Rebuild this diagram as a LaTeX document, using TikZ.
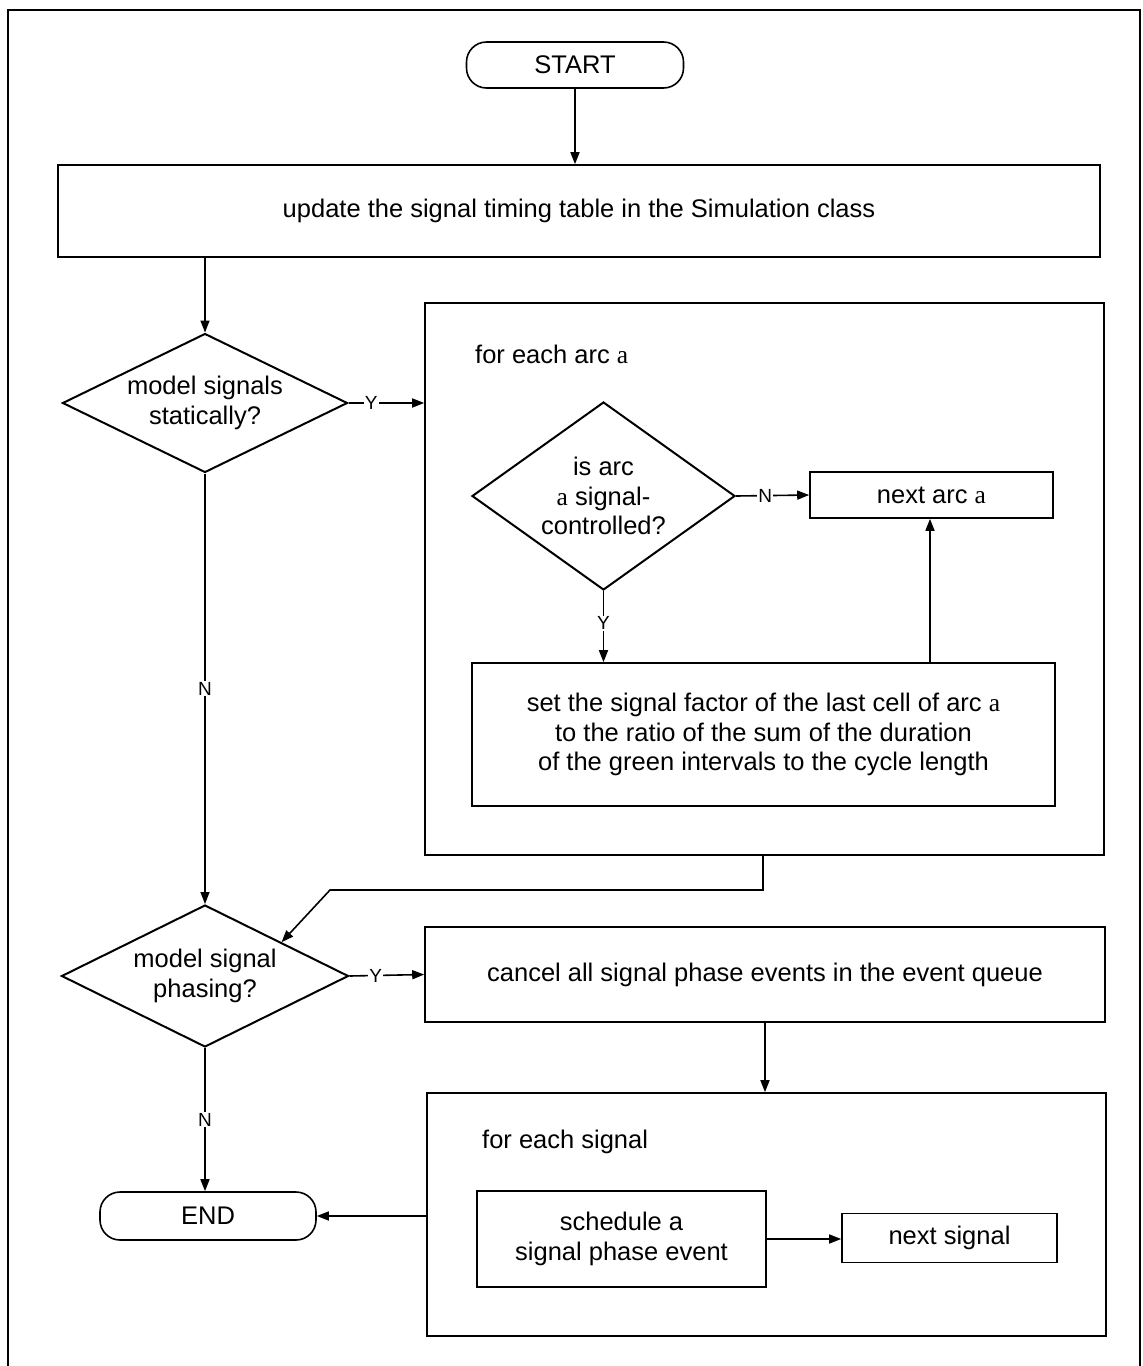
\documentclass[tikz,border=0pt]{standalone}
\usepackage{fontspec}
\setmainfont{Liberation Sans}
\newfontfamily\serifa{Liberation Serif}
\usetikzlibrary{shapes.geometric,calc,arrows.meta}
\newcommand{\va}{{\serifa a}}
\begin{document}
\begin{tikzpicture}[x=1pt,y=-1pt,
  every node/.style={font=\fontsize{25.5}{29.5}\selectfont},
  box/.style={draw,line width=1.6pt,rectangle,inner sep=0pt,align=center},
  term/.style={draw,line width=1.6pt,rectangle,rounded corners=20pt,inner sep=0pt,align=center},
  dec/.style={draw,line width=2pt,diamond,inner sep=0pt,align=center},
  arr/.style={line width=1.6pt,-{Triangle[length=12pt,width=9pt]}},
  lbl/.style={fill=white,inner sep=1pt,font=\fontsize{19}{21}\selectfont}]
\useasboundingbox (0,0) rectangle (1143,1366);
% outer frame
\draw[line width=1.6pt] (8,1370) -- (8,10) -- (1140,10) -- (1140,1370);

% nodes
\node[term,minimum width=217pt,minimum height=46pt] (start) at (575,65) {START};
\node[box,minimum width=1042pt,minimum height=92pt] (update) at (579,211)
  {update the signal timing table in the Simulation class};
\node[dec,aspect=2.05,minimum width=285pt,minimum height=139pt] (d1) at (205,403)
  {model signals\\statically?};
\node[box,minimum width=679pt,minimum height=552pt] (loopa) at (764.5,579) {};
\node[anchor=west,inner sep=0pt] (laba) at (475,354) {for each arc \va};
\node[dec,aspect=1.4,minimum width=263pt,minimum height=188pt] (d2) at (603.5,496)
  {is arc\\\va{} signal-\\controlled?};
\node[box,minimum width=243pt,minimum height=46pt] (nexta) at (931.5,495) {next arc \va};
\node[box,minimum width=583pt,minimum height=143pt] (setf) at (763.5,734.5)
  {set the signal factor of the last cell of arc \va\\
   to the ratio of the sum of the duration\\
   of the green intervals to the cycle length};
\node[dec,aspect=2.02,minimum width=287pt,minimum height=142pt] (d3) at (205,976)
  {model signal\\phasing?};
\node[box,minimum width=680pt,minimum height=95pt] (cancel) at (765,974.5)
  {cancel all signal phase events in the event queue};
\node[box,minimum width=679pt,minimum height=243pt] (loops) at (766.5,1214.5) {};
\node[anchor=west,inner sep=0pt] (labs) at (482,1142) {for each signal};
\node[box,minimum width=289pt,minimum height=96pt] (sched) at (621.5,1239)
  {schedule a\\signal phase event};
\node[box,minimum width=215pt,minimum height=49pt] (nexts) at (949.5,1238) {next signal};
\node[term,minimum width=216pt,minimum height=48pt] (end) at (208,1216) {END};

% connectors
\draw[arr] (start) -- (start |- update.north);
\draw[arr] (update.south -| d1.north) -- (d1.north);
\draw[arr] (d1.east) -- node[lbl,pos=0.3] {Y} (d1.east -| loopa.west);
\draw[arr] (d2.east) -- node[lbl,pos=0.4] {N} (nexta.west);
\draw[arr] (d2.south) -- node[lbl,pos=0.45] {Y} (d2.south |- setf.north);
\coordinate (upfrom) at (930,0);
\draw[arr] (setf.north -| upfrom) -- (nexta.south -| upfrom);
\draw[arr] (d1.south) -- node[lbl] {N} (d3.north);
\coordinate (exa) at (763,0);
\coordinate (bend) at (330,890);
\coordinate (hit) at ($(d3.north)!0.53!(d3.east)$);
\draw[arr] (loopa.south -| exa) -- (exa |- bend) -- (bend) -- (hit);
\draw[arr] (d3.east) -- node[lbl,pos=0.35] {Y} (cancel.west);
\draw[arr] (cancel.south) -- (cancel.south |- loops.north);
\draw[arr] (d3.south) -- node[lbl] {N} (d3.south |- end.north);
\draw[arr] (loops.west |- end.east) -- (end.east);
\draw[arr] (sched.east) -- (sched.east -| nexts.west);
\end{tikzpicture}
\end{document}
